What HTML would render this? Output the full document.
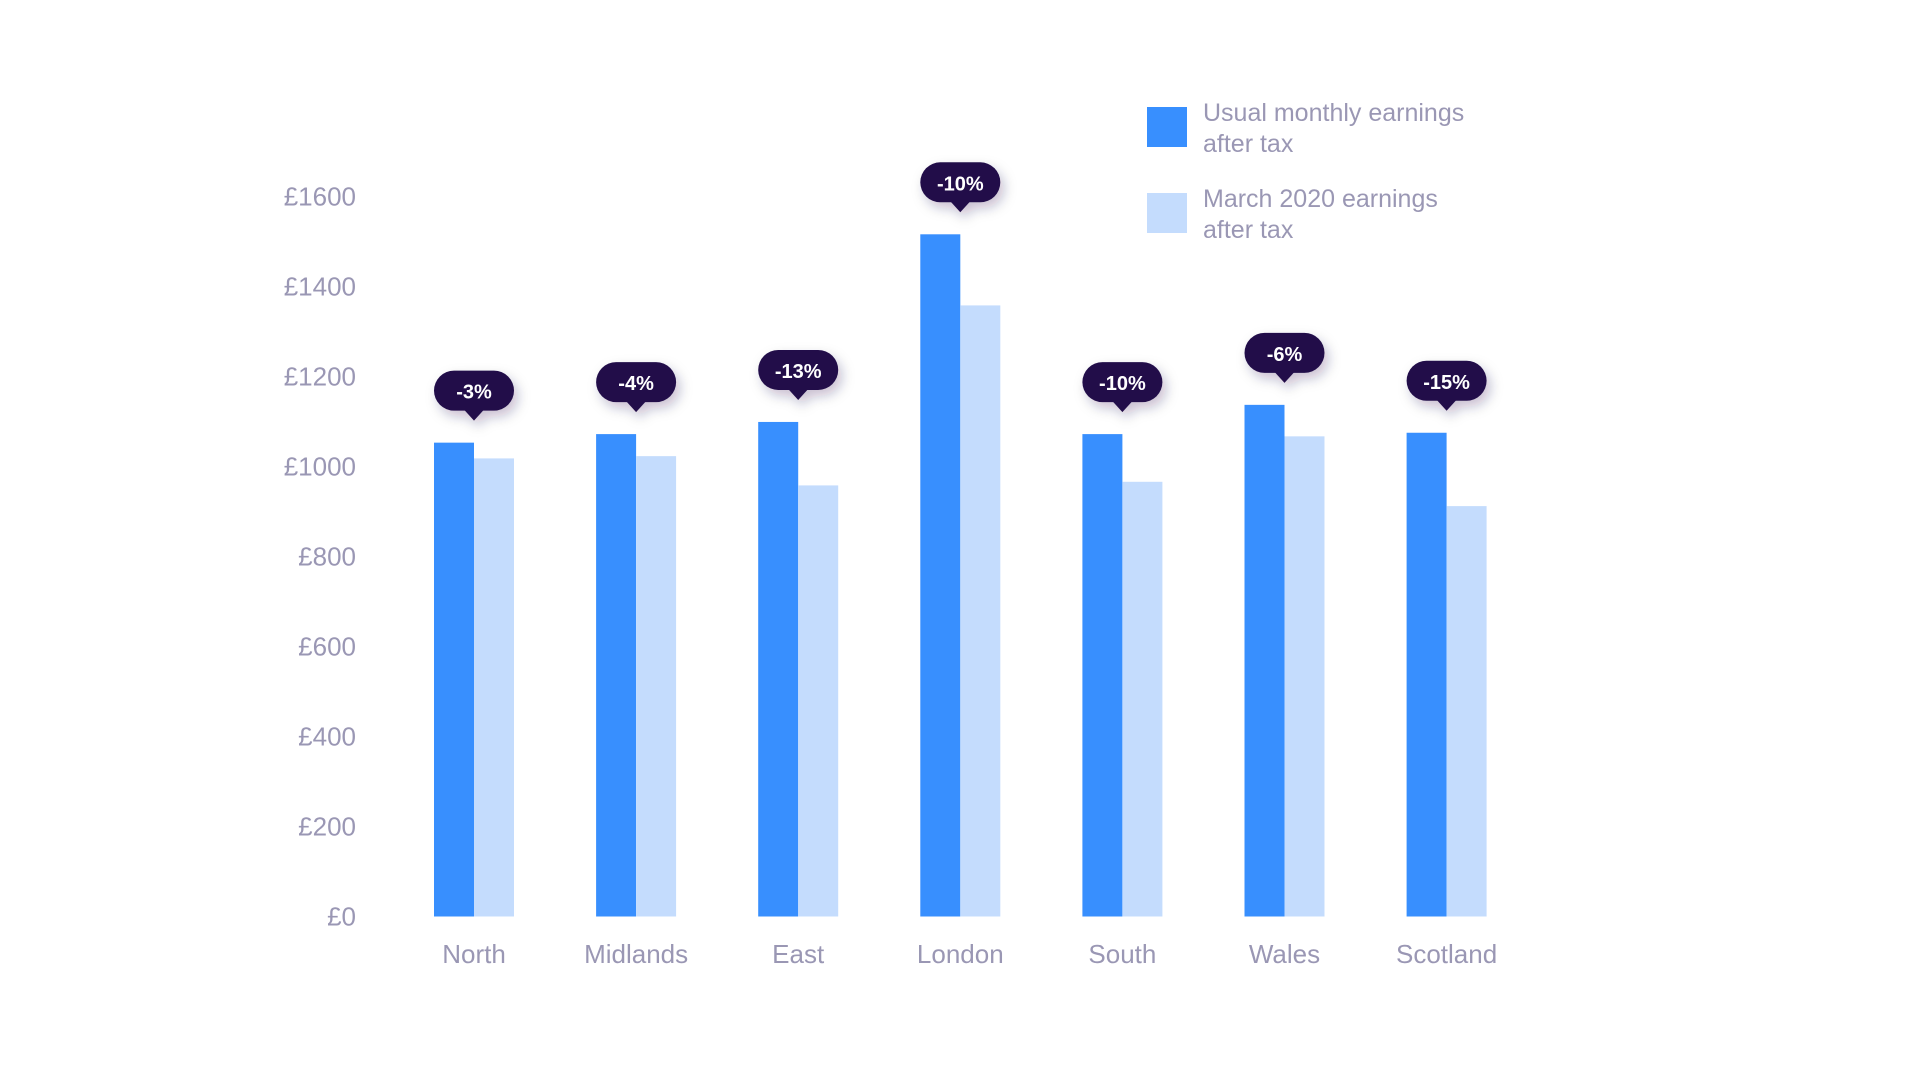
<!DOCTYPE html>
<html><head><meta charset="utf-8"><style>
body{margin:0;background:#fff;width:1920px;height:1080px;overflow:hidden;font-family:"Liberation Sans",sans-serif}
svg{display:block}
text{font-family:"Liberation Sans",sans-serif}
</style></head><body>
<svg id="chart" width="1920" height="1080">
<defs><filter id="sh" x="-50%" y="-50%" width="200%" height="200%"><feDropShadow dx="4" dy="6" stdDeviation="6" flood-color="#22104a" flood-opacity="0.25"/></filter></defs>
<g id="legend">
<rect x="1147" y="107" width="40" height="40" fill="#388ffe"/>
<text x="1203" y="121" font-size="25" fill="#9a97b4"><tspan x="1203">Usual monthly earnings</tspan><tspan x="1203" dy="31">after tax</tspan></text>
<rect x="1147" y="193" width="40" height="40" fill="#c4dcfd"/>
<text x="1203" y="207" font-size="25" fill="#9a97b4"><tspan x="1203">March 2020 earnings</tspan><tspan x="1203" dy="31">after tax</tspan></text>
</g>
</svg>
<script>
const categories=["North","Midlands","East","London","South","Wales","Scotland"];
const usual=[1053,1072,1099,1516,1072,1137,1075];
const march=[1018,1023,958,1358,966,1067,912];
const changes=["-3%","-4%","-13%","-10%","-10%","-6%","-15%"];
const ticks=[0,200,400,600,800,1000,1200,1400,1600];
const tickLabels=["£0","£200","£400","£600","£800","£1000","£1200","£1400","£1600"];
const NS="http://www.w3.org/2000/svg";
const svg=document.getElementById('chart');
const y=v=>916.5-v*(916.5-196.5)/1600;
const gx=i=>474+i*162.1;
function mk(t,a){const e=document.createElementNS(NS,t);for(const k in a)e.setAttribute(k,a[k]);svg.appendChild(e);return e;}
ticks.forEach((t,i)=>{
 const e=mk('text',{x:356,y:y(t)+9,'font-size':26,fill:'#9a97b4','text-anchor':'end'});
 e.textContent=tickLabels[i];
 
 
});
categories.forEach((c,i)=>{
 const cx=gx(i);
 const b1=mk('rect',{x:cx-40,y:y(usual[i]),width:40,height:y(0)-y(usual[i]),fill:'#388ffe'});
 
 
 const b2=mk('rect',{x:cx,y:y(march[i]),width:40,height:y(0)-y(march[i]),fill:'#c4dcfd'});
 
 
 const l=mk('text',{x:cx,y:963,'font-size':26,fill:'#9a97b4','text-anchor':'middle'});
 l.textContent=c;
 
 
 const tip=y(usual[i])-22;
 const g=mk('g',{filter:'url(#sh)'});
 
 
 const r=document.createElementNS(NS,'rect');
 [['x',cx-40],['y',tip-50],['width',80],['height',40],['rx',20],['fill','#22104a']].forEach(a=>r.setAttribute(a[0],a[1]));
 g.appendChild(r);
 const p=document.createElementNS(NS,'path');
 p.setAttribute('d',`M${cx-10} ${tip-11} L${cx} ${tip} L${cx+10} ${tip-11}Z`);
 p.setAttribute('fill','#22104a');
 g.appendChild(p);
 const t=mk('text',{x:cx,y:tip-22,'font-size':20,'font-weight':'bold',fill:'#fff','text-anchor':'middle'});
 t.textContent=changes[i];
 
 
});
</script>
</body></html>
